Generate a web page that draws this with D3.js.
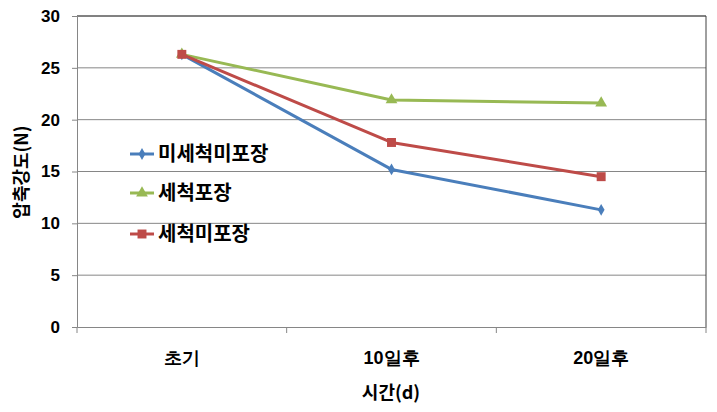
<!DOCTYPE html>
<html><head><meta charset="utf-8">
<script src="https://cdn.jsdelivr.net/npm/d3@7"></script>
<style>body{margin:0;background:#fff}svg{display:block;font-family:"Noto Sans CJK KR","Noto Sans",sans-serif}</style>
</head><body><svg id="c" width="717" height="412"></svg>
<script>
const categories = ["초기", "10일후", "20일후"];
const seriesNames = ["미세척미포장", "세척포장", "세척미포장"];
const seriesBlue = [26.3, 15.2, 11.3];
const seriesGreen = [26.3, 21.9, 21.6];
const seriesRed = [26.3, 17.8, 14.5];
const yTicks = [0, 5, 10, 15, 20, 25, 30];

const series = [
  {name: seriesNames[0], values: seriesBlue, color: "#4A7EBB", sym: d3.symbolDiamond, size: 40},
  {name: seriesNames[1], values: seriesGreen, color: "#98B954", sym: d3.symbolTriangle, size: 60},
  {name: seriesNames[2], values: seriesRed, color: "#BE4B48", sym: d3.symbolSquare, size: 80}
];

const svg = d3.select("#c");
const L = 77, R = 706, T = 16, B = 327;
const x = d3.scaleBand().domain(categories).range([L, R]);
const y = d3.scaleLinear().domain([0, 30]).range([B, T]);

svg.append("g").selectAll("line").data(yTicks.filter(t => t > 0)).join("line")
  .attr("x1", L).attr("x2", R).attr("y1", d => y(d)).attr("y2", d => y(d))
  .attr("stroke", "#868686").attr("stroke-width", 1);
svg.append("path").attr("d", `M${L},${T}H${R}V${B}`).attr("fill", "none").attr("stroke", "#404040").attr("stroke-width", 1);

const yAxis = d3.axisLeft(y).tickValues(yTicks).tickSize(5).tickPadding(12);
const gy = svg.append("g").attr("transform", `translate(${L},0)`).call(yAxis);
gy.select(".domain").attr("stroke", "#868686");
gy.selectAll(".tick line").attr("stroke", "#868686");
gy.selectAll("text").attr("font-size", 17).attr("font-weight", "bold").attr("fill", "#000");

const xAxis = d3.axisBottom(x).tickSize(0).tickPadding(24);
const gx = svg.append("g").attr("transform", `translate(0,${B})`).call(xAxis);
gx.select(".domain").attr("stroke", "#868686");
gx.selectAll("text").attr("font-size", 18).attr("font-weight", "bold").attr("fill", "#000");
const bounds = categories.map(c => x(c)).concat([R]);
gx.append("g").selectAll("line").data(bounds).join("line")
  .attr("x1", d => d).attr("x2", d => d).attr("y1", 0).attr("y2", 6).attr("stroke", "#868686");

const line = d3.line().x((d, i) => x(categories[i]) + x.bandwidth() / 2).y(d => y(d));
series.forEach(s => {
  svg.append("path").datum(s.values).attr("d", line).attr("fill", "none")
    .attr("stroke", s.color).attr("stroke-width", 3).attr("stroke-linejoin", "round");
  svg.append("g").selectAll("path").data(s.values).join("path")
    .attr("transform", (d, i) => `translate(${x(categories[i]) + x.bandwidth() / 2},${y(d)})`)
    .attr("d", d3.symbol(s.sym, s.size)).attr("fill", s.color);
});

const legY = [154, 193, 234];
series.forEach((s, i) => {
  const g = svg.append("g").attr("transform", `translate(130,${legY[i]})`);
  g.append("line").attr("x1", 0).attr("x2", 24).attr("stroke", s.color).attr("stroke-width", 3);
  g.append("path").attr("transform", "translate(12,0)").attr("d", d3.symbol(s.sym, s.size)).attr("fill", s.color);
  g.append("text").attr("x", 28).attr("dy", "0.35em").attr("font-size", 20).attr("font-weight", "bold").text(s.name);
});

svg.append("text").attr("transform", "translate(22,172) rotate(-90)").attr("text-anchor", "middle")
  .attr("dy", "0.35em").attr("font-size", 18).attr("font-weight", "bold").text("압축강도(N)");
svg.append("text").attr("x", 391).attr("y", 393).attr("text-anchor", "middle")
  .attr("dy", "0.35em").attr("font-size", 18).attr("font-weight", "bold").text("시간(d)");
</script></body></html>
